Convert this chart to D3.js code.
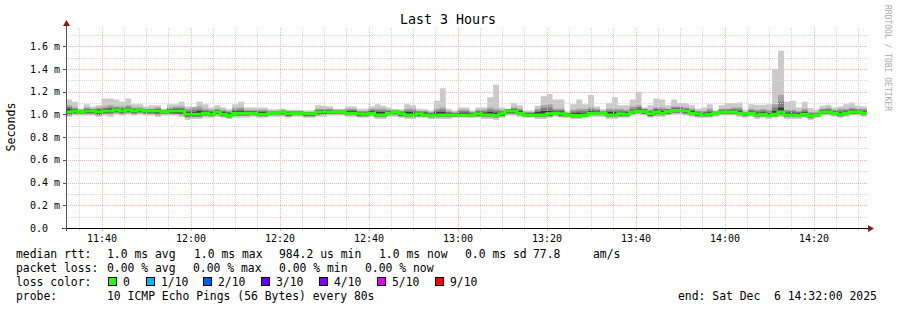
<!DOCTYPE html>
<html>
<head>
<meta charset="utf-8">
<script src="https://cdn.jsdelivr.net/npm/d3@7"></script>
<style>
  body { margin: 0; background: #fff; }
  text { font-family: "DejaVu Sans Mono", monospace; white-space: pre; }
</style>
</head>
<body>
<div id="chart"></div>
<script>
var svgWidth = 897;
var svgHeight = 310;

var margin = { top: 28, right: 30, bottom: 82, left: 66 };

// one value per 80 s step, 11:32 -> 14:32 (ms), sorted pings from max down to min
var pingMax = [
  1.13,1.11,1.05,1.09,1.07,1.08,1.14,1.14,1.13,1.11,1.14,1.09,1.09,1.07,1.08,1.08,1.05,1.09,1.09,1.11,1.07,1.07,
  1.11,1.09,1.06,1.08,1.06,1.045,1.09,1.11,1.06,1.06,1.06,1.06,1.045,1.045,1.05,1.04,1.04,1.04,1.035,1.035,1.08,1.075,1.07,
  1.05,1.05,1.07,1.07,1.05,1.05,1.07,1.09,1.075,1.06,1.045,1.045,1.09,1.08,1.05,1.045,1.035,1.12,1.23,1.05,1.035,1.06,
  1.06,1.035,1.06,1.06,1.15,1.26,1.06,1.035,1.1,1.08,1.035,1.035,1.075,1.16,1.18,1.13,1.13,1.025,1.09,1.13,1.09,1.17,1.07,
  1.045,1.1,1.15,1.08,1.08,1.13,1.2,1.06,1.08,1.14,1.13,1.08,1.13,1.1,1.1,1.08,1.05,1.06,1.09,1.035,1.08,1.1,1.1,
  1.105,1.04,1.09,1.085,1.085,1.09,1.4,1.56,1.11,1.12,1.06,1.11,1.055,1.04,1.075,1.085,1.06,1.07,1.09,1.105,1.075,1.07
];
var ping9 = [
  1.08,1.06,1.04,1.06,1.05,1.06,1.07,1.08,1.07,1.07,1.08,1.06,1.06,1.05,1.05,1.06,1.04,1.06,1.07,1.07,1.05,1.06,
  1.07,1.05,1.04,1.05,1.04,1.03,1.06,1.06,1.04,1.04,1.04,1.04,1.03,1.03,1.04,1.03,1.03,1.03,1.02,1.02,1.05,1.05,1.05,
  1.04,1.04,1.05,1.05,1.03,1.03,1.05,1.05,1.05,1.04,1.04,1.03,1.05,1.05,1.03,1.03,1.02,1.05,1.06,1.03,1.02,1.04,
  1.04,1.02,1.04,1.04,1.06,1.05,1.04,1.05,1.06,1.05,1.02,1.02,1.05,1.08,1.09,1.05,1.05,1.015,1.04,1.05,1.05,1.06,1.05,
  1.03,1.05,1.05,1.05,1.04,1.07,1.08,1.05,1.04,1.06,1.06,1.05,1.07,1.07,1.06,1.05,1.03,1.03,1.05,1.025,1.05,1.05,1.06,
  1.06,1.02,1.05,1.04,1.05,1.04,1.09,1.17,1.04,1.04,1.03,1.05,1.02,1.02,1.05,1.06,1.04,1.05,1.05,1.06,1.05,1.05
];
var ping8 = [
  1.065,1.05,1.035,1.05,1.045,1.05,1.055,1.06,1.06,1.055,1.065,1.05,1.055,1.045,1.045,1.05,1.035,1.05,1.055,1.055,1.035,1.04,
  1.045,1.035,1.03,1.04,1.03,1.02,1.04,1.045,1.03,1.03,1.03,1.03,1.025,1.025,1.035,1.025,1.025,1.025,1.018,1.018,1.04,1.04,1.04,
  1.035,1.035,1.04,1.04,1.025,1.022,1.04,1.035,1.035,1.032,1.035,1.025,1.035,1.035,1.025,1.022,1.012,1.035,1.04,1.02,1.012,1.028,
  1.028,1.015,1.03,1.028,1.04,1.032,1.03,1.045,1.052,1.04,1.015,1.015,1.035,1.055,1.06,1.038,1.038,1.01,1.025,1.032,1.032,1.045,1.038,
  1.025,1.035,1.035,1.035,1.03,1.052,1.065,1.045,1.03,1.05,1.045,1.045,1.06,1.06,1.052,1.04,1.025,1.022,1.035,1.022,1.042,1.042,1.048,
  1.045,1.015,1.038,1.028,1.035,1.025,1.06,1.11,1.028,1.028,1.02,1.035,1.01,1.012,1.042,1.048,1.032,1.035,1.038,1.048,1.042,1.038
];
var ping7 = [
  1.05,1.045,1.03,1.045,1.04,1.04,1.045,1.05,1.055,1.045,1.055,1.045,1.05,1.04,1.04,1.045,1.03,1.045,1.045,1.045,1.02,1.02,
  1.03,1.025,1.02,1.035,1.02,1.01,1.03,1.03,1.025,1.025,1.02,1.02,1.02,1.02,1.03,1.02,1.02,1.02,1.015,1.015,1.035,1.035,1.035,
  1.03,1.03,1.03,1.03,1.02,1.015,1.03,1.02,1.02,1.025,1.03,1.02,1.02,1.02,1.02,1.015,1.005,1.02,1.02,1.01,1.005,1.015,
  1.015,1.01,1.02,1.015,1.02,1.015,1.02,1.04,1.045,1.03,1.01,1.01,1.02,1.03,1.03,1.025,1.025,1.005,1.01,1.015,1.015,1.03,1.025,
  1.02,1.02,1.02,1.02,1.02,1.035,1.05,1.04,1.02,1.04,1.03,1.04,1.05,1.05,1.045,1.03,1.02,1.015,1.02,1.02,1.035,1.035,1.035,
  1.03,1.01,1.025,1.015,1.02,1.01,1.03,1.06,1.015,1.015,1.01,1.02,1.0,1.005,1.035,1.035,1.025,1.02,1.025,1.035,1.035,1.025
];
var median = [
  1.02,1.03,1.02,1.03,1.03,1.02,1.03,1.03,1.04,1.03,1.04,1.03,1.04,1.03,1.03,1.03,1.02,1.03,1.03,1.03,1.0,1.0,
  1.0,1.01,1.0,1.02,1.0,0.99,1.01,1.01,1.01,1.01,1.0,1.0,1.01,1.01,1.02,1.005,1.01,1.01,1.005,1.005,1.02,1.02,1.02,
  1.02,1.02,1.01,1.01,1.005,1.0,1.01,0.995,0.995,1.01,1.02,1.005,0.995,0.995,1.005,0.995,0.99,0.995,0.995,0.995,0.995,0.995,
  0.995,0.995,1.005,0.995,0.995,0.99,1.005,1.03,1.03,1.01,0.995,0.995,0.995,0.995,1.005,1.01,1.005,0.995,0.99,0.99,0.995,1.01,1.01,
  1.01,0.995,0.995,1.005,1.0,1.02,1.03,1.025,1.005,1.02,1.01,1.025,1.035,1.035,1.03,1.01,1.005,0.995,1.0,1.01,1.02,1.02,1.02,
  1.01,1.0,1.01,0.995,1.0,0.99,1.0,1.02,0.995,0.995,0.99,1.0,0.985,0.995,1.02,1.02,1.01,1.0,1.01,1.02,1.02,1.01
];
var ping4 = [
  1.005,1.015,1.01,1.015,1.015,1.0,1.015,1.015,1.025,1.015,1.025,1.015,1.025,1.015,1.015,1.01,1.01,1.015,1.01,1.01,0.985,0.985,
  0.985,0.995,0.99,1.005,0.99,0.98,0.995,0.995,0.995,1.0,0.99,0.99,1.0,1.0,1.005,0.99,1.0,1.0,0.99,0.99,1.005,1.005,1.01,
  1.01,1.01,1.0,1.0,0.99,0.99,1.0,0.985,0.985,1.0,1.005,0.99,0.985,0.985,0.99,0.985,0.98,0.985,0.985,0.985,0.985,0.985,
  0.985,0.985,0.99,0.985,0.985,0.98,0.99,1.015,1.015,1.0,0.985,0.985,0.985,0.985,0.99,1.0,0.99,0.985,0.98,0.98,0.985,1.0,1.0,
  1.0,0.985,0.985,0.99,0.99,1.01,1.02,1.01,0.99,1.005,1.0,1.01,1.02,1.02,1.015,1.0,0.99,0.985,0.99,1.0,1.01,1.01,1.01,
  1.0,0.99,1.0,0.985,0.99,0.98,0.99,1.005,0.985,0.985,0.98,0.99,0.975,0.985,1.01,1.01,1.0,0.99,1.0,1.01,1.01,1.0
];
var ping3 = [
  0.997,1.007,1.005,1.007,1.007,0.995,1.007,1.007,1.017,1.007,1.017,1.007,1.017,1.007,1.007,1.0,1.005,1.007,1.005,1.0,0.977,0.98,
  0.98,0.99,0.985,0.997,0.985,0.975,0.99,0.99,0.99,0.995,0.985,0.985,0.995,0.995,0.997,0.985,0.995,0.995,0.985,0.985,0.997,1.0,1.005,
  1.005,1.005,0.995,0.995,0.985,0.985,0.995,0.98,0.98,0.995,0.997,0.985,0.98,0.98,0.985,0.982,0.975,0.98,0.98,0.98,0.982,0.982,
  0.982,0.982,0.985,0.98,0.98,0.975,0.985,1.007,1.007,0.995,0.982,0.982,0.98,0.98,0.985,0.995,0.985,0.982,0.975,0.975,0.982,0.995,0.995,
  0.995,0.98,0.98,0.985,0.985,1.005,1.015,1.005,0.985,0.997,0.995,1.005,1.015,1.015,1.007,0.995,0.985,0.982,0.985,0.995,1.005,1.005,1.005,
  0.995,0.985,0.995,0.98,0.985,0.977,0.985,0.997,0.98,0.98,0.977,0.985,0.97,0.982,1.005,1.005,0.995,0.985,0.995,1.005,1.005,0.995
];
var ping2 = [
  0.99,1.0,1.0,1.0,1.0,0.99,1.0,1.0,1.01,1.0,1.01,1.0,1.01,1.0,1.0,0.99,1.0,1.0,1.0,0.99,0.97,0.975,
  0.975,0.985,0.98,0.99,0.98,0.97,0.985,0.985,0.985,0.99,0.98,0.98,0.99,0.99,0.99,0.98,0.99,0.99,0.98,0.98,0.99,0.995,1.0,
  1.0,1.0,0.99,0.99,0.98,0.98,0.99,0.975,0.975,0.99,0.99,0.98,0.975,0.975,0.98,0.98,0.97,0.975,0.975,0.975,0.98,0.98,
  0.98,0.98,0.98,0.975,0.975,0.97,0.98,1.0,1.0,0.99,0.98,0.98,0.975,0.975,0.98,0.99,0.98,0.98,0.97,0.97,0.98,0.99,0.99,
  0.99,0.975,0.975,0.98,0.98,1.0,1.01,1.0,0.98,0.99,0.99,1.0,1.01,1.01,1.0,0.99,0.98,0.98,0.98,0.99,1.0,1.0,1.0,
  0.99,0.98,0.99,0.975,0.98,0.975,0.98,0.99,0.975,0.975,0.975,0.98,0.965,0.98,1.0,1.0,0.99,0.98,0.99,1.0,1.0,0.99
];
var pingMin = [
  0.98,0.99,0.99,0.99,0.99,0.98,0.99,0.98,1.0,0.99,1.0,0.99,1.0,0.99,0.99,0.98,0.99,0.99,0.99,0.98,0.95,0.96,
  0.96,0.97,0.97,0.98,0.97,0.96,0.97,0.97,0.97,0.98,0.97,0.97,0.98,0.98,0.98,0.97,0.98,0.98,0.97,0.97,0.98,0.98,0.99,
  0.99,0.99,0.98,0.98,0.97,0.97,0.98,0.96,0.96,0.98,0.98,0.97,0.96,0.96,0.97,0.97,0.96,0.96,0.96,0.96,0.97,0.97,
  0.97,0.97,0.97,0.96,0.96,0.95,0.97,0.99,0.99,0.98,0.97,0.97,0.96,0.96,0.97,0.98,0.97,0.97,0.96,0.96,0.97,0.98,0.98,
  0.98,0.96,0.96,0.97,0.97,0.99,1.0,0.99,0.97,0.98,0.98,0.99,1.0,1.0,0.99,0.98,0.97,0.97,0.97,0.98,0.99,0.99,0.99,
  0.98,0.97,0.98,0.96,0.97,0.96,0.97,0.98,0.96,0.96,0.96,0.97,0.95,0.97,0.99,0.99,0.98,0.97,0.98,0.99,0.99,0.98
];

var yTicks = [0, 0.2, 0.4, 0.6, 0.8, 1.0, 1.2, 1.4, 1.6];
var yTickLabels = ["0.0", "0.2 m", "0.4 m", "0.6 m", "0.8 m", "1.0 m", "1.2 m", "1.4 m", "1.6 m"];

var lossLabels = ["0", "1/10", "2/10", "3/10", "4/10", "5/10", "9/10"];
var lossColors = ["#26ff00", "#00b8ff", "#0059ff", "#5e00ff", "#7e00ff", "#dd00ff", "#ff0000"];

var legendRtt = [["median rtt:", 16], ["1.0 ms avg", 107], ["1.0 ms max", 194], ["984.2 us min", 279],
                 ["1.0 ms now", 379], ["0.0 ms sd", 465], ["77.8", 533], ["am/s", 593]];
var legendLoss = [["packet loss:", 16], ["0.00 % avg", 107], ["0.00 % max", 193],
                  ["0.00 % min", 279], ["0.00 % now", 365]];
var legendProbe = [["probe:", 16], ["10 ICMP Echo Pings (56 Bytes) every 80s", 107],
                   ["end: Sat Dec  6 14:32:00 2025", 678]];

var startTime = new Date(2025, 11, 6, 11, 32, 0);
var endTime = new Date(2025, 11, 6, 14, 32, 0);
var stepMs = 80 * 1000;

var width = 801;
var height = 200;
var x0 = margin.left, yBase = margin.top + height;

var gridMinor = "#d6d6d6";
var gridMajor = "#f6b4b4";

var svg = d3.select("#chart").append("svg")
  .attr("width", svgWidth)
  .attr("height", svgHeight);

var x = d3.scaleTime().domain([startTime, endTime]).range([x0, x0 + width]);
var y = d3.scaleLinear().domain([0, 1.76]).range([yBase, margin.top]);

// rows, with one extra closing row so the last step gets its width
var rows = median.map(function(m, i) {
  return { t: new Date(+startTime + i * stepMs), min: pingMin[i], p2: ping2[i], p3: ping3[i], p4: ping4[i],
           med: m, p7: ping7[i], p8: ping8[i], p9: ping9[i], max: pingMax[i] };
});
rows.push(Object.assign({}, rows[rows.length - 1], { t: endTime }));

function band(lo, hi) {
  return d3.area()
    .x(d => x(d.t))
    .y0(d => y(d[lo]))
    .y1(d => y(d[hi]))
    .curve(d3.curveStepAfter);
}

// smoke, outer pair lightest
var smoke = [["min", "max", "#cacaca"], ["p2", "p9", "#a4a4a4"], ["p3", "p8", "#7e7e7e"], ["p4", "p7", "#3a3a3a"]];
smoke.forEach(function(s) {
  svg.append("path").datum(rows).attr("d", band(s[0], s[1])).attr("fill", s[2]);
});

// grid
var grid = svg.append("g").attr("shape-rendering", "crispEdges").attr("stroke-dasharray", "1,1");
var minorY = d3.range(0.1, 1.75, 0.2);
grid.selectAll(".hminor").data(minorY).join("line")
  .attr("x1", x0).attr("x2", x0 + width)
  .attr("y1", d => Math.round(y(d)) + 0.5).attr("y2", d => Math.round(y(d)) + 0.5)
  .attr("stroke", gridMinor);
grid.selectAll(".hmajor").data(yTicks.slice(1)).join("line")
  .attr("x1", x0).attr("x2", x0 + width)
  .attr("y1", d => Math.round(y(d)) + 0.5).attr("y2", d => Math.round(y(d)) + 0.5)
  .attr("stroke", gridMajor);

var minorX = d3.timeMinute.every(5).range(startTime, endTime);
var majorX = d3.timeMinute.every(20).range(startTime, endTime);
grid.selectAll(".vminor").data(minorX).join("line")
  .attr("x1", d => Math.round(x(d)) + 0.5).attr("x2", d => Math.round(x(d)) + 0.5)
  .attr("y1", margin.top).attr("y2", yBase)
  .attr("stroke", gridMinor);
grid.selectAll(".vmajor").data(majorX).join("line")
  .attr("x1", d => Math.round(x(d)) + 0.5).attr("x2", d => Math.round(x(d)) + 0.5)
  .attr("y1", margin.top).attr("y2", yBase)
  .attr("stroke", gridMajor);

// median line
svg.append("path").datum(rows)
  .attr("d", d3.line().x(d => x(d.t)).y(d => y(d.med)).curve(d3.curveStepAfter))
  .attr("fill", "none").attr("stroke", "#26ff00").attr("stroke-width", 3);

// axes
var axes = svg.append("g").attr("shape-rendering", "crispEdges");
axes.append("line").attr("x1", x0 - 4).attr("x2", x0 + width + 3)
  .attr("y1", yBase + 0.5).attr("y2", yBase + 0.5).attr("stroke", "#000");
axes.append("line").attr("x1", x0 + 0.5).attr("x2", x0 + 0.5)
  .attr("y1", yBase + 3).attr("y2", 22).attr("stroke", "#555");
var majorMs = majorX.map(Number);
axes.selectAll(".xt").data(minorX).join("line")
  .attr("x1", d => Math.round(x(d)) + 0.5).attr("x2", d => Math.round(x(d)) + 0.5)
  .attr("y1", yBase + 1).attr("y2", yBase + 3)
  .attr("stroke", d => majorMs.indexOf(+d) >= 0 ? gridMajor : gridMinor);
axes.selectAll(".yt").data(yTicks).join("line")
  .attr("x1", x0 - 3).attr("x2", x0)
  .attr("y1", d => Math.round(y(d)) + 0.5).attr("y2", d => Math.round(y(d)) + 0.5)
  .attr("stroke", "#555");
svg.append("path").attr("d", `M${x0 + width + 1},${yBase - 3}L${x0 + width + 7},${yBase + 0.5}L${x0 + width + 1},${yBase + 4}Z`)
  .attr("fill", "#8b1a1a");
svg.append("path").attr("d", `M${x0 - 3},${26}L${x0 + 0.5},${20}L${x0 + 4},${26}Z`)
  .attr("fill", "#8b1a1a");

// tick labels
svg.selectAll(".ylab").data(yTicks).join("text")
  .attr("x", 30).attr("y", d => y(d) + 3.6)
  .attr("font-size", "10px").attr("fill", "#000")
  .text((d, i) => yTickLabels[i]);
var fmt = d3.timeFormat("%H:%M");
svg.selectAll(".xlab").data(majorX.filter(d => d > startTime)).join("text")
  .attr("x", d => x(d) + 0.5).attr("y", 241.5)
  .attr("text-anchor", "middle").attr("font-size", "10px").attr("fill", "#000")
  .text(d => fmt(d));

// titles
svg.append("text").attr("x", 448).attr("y", 24).attr("text-anchor", "middle")
  .attr("font-size", "13.3px").text("Last 3 Hours");
svg.append("text").attr("transform", "translate(15,127) rotate(-90)")
  .attr("text-anchor", "middle").attr("font-size", "11.6px").text("Seconds");
svg.append("text").attr("transform", "translate(884.5,5) rotate(90)")
  .attr("font-size", "8px").attr("fill", "#aaaaaa").text("RRDTOOL / TOBI OETIKER");

// legend
var legendSize = "11.4px";
function legendRow(items, yPos) {
  items.forEach(function(it) {
    svg.append("text").attr("x", it[1]).attr("y", yPos).attr("font-size", legendSize).text(it[0]);
  });
}
legendRow(legendRtt, 258);
legendRow(legendLoss, 272);
legendRow([["loss color:", 16]], 286);
legendRow(legendProbe, 300);

var boxX = [108, 146, 203, 261, 319, 377, 435];
lossLabels.forEach(function(lab, i) {
  svg.append("rect").attr("x", boxX[i] + 0.5).attr("y", 277.5).attr("width", 8).attr("height", 8)
    .attr("fill", lossColors[i]).attr("stroke", "#000").attr("shape-rendering", "crispEdges");
  svg.append("text").attr("x", boxX[i] + 15).attr("y", 286).attr("font-size", legendSize).text(lab);
});
</script>
</body>
</html>
